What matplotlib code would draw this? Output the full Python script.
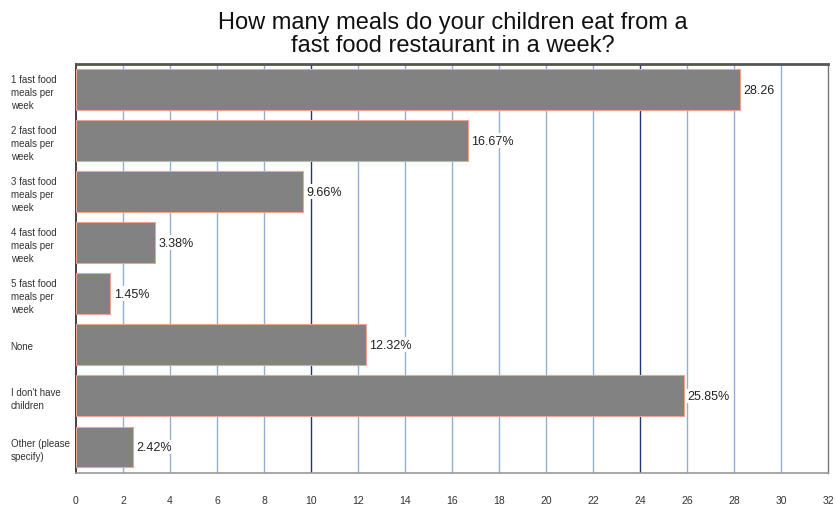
import numpy as np
import matplotlib.pyplot as plt

plt.rcParams['font.family'] = ['Liberation Sans', 'DejaVu Sans']

categorias = ['1 fast food\nmeals per\nweek', '2 fast food\nmeals per\nweek',
              '3 fast food\nmeals per\nweek', '4 fast food\nmeals per\nweek',
              '5 fast food\nmeals per\nweek', 'None', "I don't have\nchildren",
              'Other (please\nspecify)']
valores = [28.26, 16.67, 9.66, 3.38, 1.45, 12.32, 25.85, 2.42]
rotulos = ['28.26', '16.67%', '9.66%', '3.38%', '1.45%', '12.32%', '25.85%', '2.42%']
xticks = np.arange(0, 33, 2)

fig = plt.figure(figsize=(8.37, 5.06), dpi=100)
ax = fig.add_axes([0.0908, 0.0642, 0.8985, 0.8073])

y = np.arange(len(categorias))
ax.barh(y, valores, height=0.8, color='#828282', edgecolor='#eaa48f', linewidth=0.8, zorder=3)

# linhas de grade
for xv in xticks[1:-1]:
    cor = '#1f3a6e' if xv in (10, 24) else '#8fb0d0'
    ax.axvline(xv, color=cor, linewidth=1.0, zorder=1)

for yi, v, r in zip(y, valores, rotulos):
    ax.text(v + 0.15, yi, r, va='center', ha='left', fontsize=9, color='#222222',
            bbox=dict(facecolor='white', edgecolor='none', pad=1.0), zorder=4)

ax.set_xlim(0, 32)
ax.set_ylim(len(categorias) - 0.5, -0.5)
ax.set_xticks(xticks)
ax.set_xticklabels([str(t) for t in xticks], fontsize=7.5, color='#333333')
ax.tick_params(axis='x', length=0, pad=16)
ax.set_yticks(y)
ax.set_yticklabels(categorias, fontsize=7, ha='left', color='#333333', linespacing=1.35)
ax.tick_params(axis='y', length=0, pad=47)

ax.spines['top'].set_color('#555555')
ax.spines['top'].set_linewidth(2)
ax.spines['left'].set_color('#222222')
ax.spines['left'].set_linewidth(1.2)
ax.spines['bottom'].set_color('#999999')
ax.spines['bottom'].set_linewidth(1.2)
ax.spines['right'].set_color('#777777')
ax.spines['right'].set_linewidth(1.0)

fig.text(0.541, 0.888, 'How many meals do your children eat from a\nfast food restaurant in a week?',
         ha='center', va='bottom', fontsize=17, linespacing=1.05, color='#111111')

fig.savefig('out.png', dpi=100)
